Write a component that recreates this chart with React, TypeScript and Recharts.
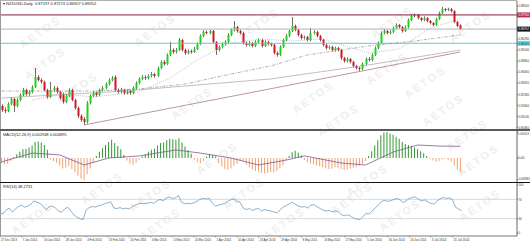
import { ComposedChart, Bar, Line, XAxis, YAxis, ReferenceLine, Cell } from "recharts";

// time axis labels, one every 7 bars
const dateTicks = [
  "27 Dec 2013", "7 Jan 2014", "16 Jan 2014", "28 Jan 2014", "4 Feb 2014", "13 Feb 2014",
  "20 Feb 2014", "4 Mar 2014", "13 Mar 2014", "20 Mar 2014", "1 Apr 2014", "10 Apr 2014",
  "23 Apr 2014", "29 Apr 2014", "8 May 2014", "16 May 2014", "27 May 2014", "5 Jun 2014",
  "16 Jun 2014", "24 Jun 2014", "3 Jul 2014", "15 Jul 2014",
];

// NZDUSD daily candles
const opens = [
  0.8180, 0.8153, 0.8146, 0.8193, 0.8227, 0.8180, 0.8220, 0.8254, 0.8287, 0.8260,
  0.8274, 0.8307, 0.8374, 0.8354, 0.8341, 0.8287, 0.8240, 0.8287, 0.8300, 0.8274,
  0.8260, 0.8207, 0.8247, 0.8287, 0.8220, 0.8166, 0.8113, 0.8093, 0.8073, 0.8200,
  0.8247, 0.8267, 0.8254, 0.8287, 0.8300, 0.8327, 0.8354, 0.8374, 0.8287, 0.8274,
  0.8287, 0.8267, 0.8280, 0.8267, 0.8300, 0.8334, 0.8361, 0.8374, 0.8367, 0.8381,
  0.8394, 0.8381, 0.8434, 0.8475, 0.8461, 0.8522, 0.8555, 0.8542, 0.8555, 0.8622,
  0.8555, 0.8535, 0.8548, 0.8542, 0.8562, 0.8595, 0.8649, 0.8676, 0.8669, 0.8682,
  0.8609, 0.8555, 0.8575, 0.8595, 0.8609, 0.8656, 0.8689, 0.8709, 0.8682, 0.8669,
  0.8602, 0.8589, 0.8602, 0.8582, 0.8609, 0.8622, 0.8582, 0.8609, 0.8595, 0.8589,
  0.8535, 0.8522, 0.8575, 0.8622, 0.8649, 0.8682, 0.8716, 0.8689, 0.8656, 0.8635,
  0.8642, 0.8622, 0.8669, 0.8676, 0.8649, 0.8622, 0.8589, 0.8568, 0.8575, 0.8555,
  0.8568, 0.8555, 0.8501, 0.8481, 0.8495, 0.8475, 0.8448, 0.8434, 0.8428, 0.8461,
  0.8495, 0.8488, 0.8522, 0.8568, 0.8602, 0.8669, 0.8682, 0.8669, 0.8676, 0.8702,
  0.8723, 0.8709, 0.8682, 0.8709, 0.8756, 0.8783, 0.8790, 0.8769, 0.8756, 0.8769,
  0.8749, 0.8736, 0.8723, 0.8763, 0.8803, 0.8830, 0.8823, 0.8830, 0.8816, 0.8743,
  0.87197,
];
const highs = [
  0.8192, 0.8170, 0.8205, 0.8240, 0.8236, 0.8232, 0.8264, 0.8300, 0.8296, 0.8285,
  0.8318, 0.8434, 0.8388, 0.8365, 0.8350, 0.8295, 0.8341, 0.8315, 0.8310, 0.8282,
  0.8270, 0.8258, 0.8298, 0.8296, 0.8228, 0.8175, 0.8125, 0.8105, 0.8212, 0.8258,
  0.8280, 0.8278, 0.8296, 0.8314, 0.8338, 0.8366, 0.8380, 0.8385, 0.8298, 0.8300,
  0.8295, 0.8292, 0.8290, 0.8312, 0.8345, 0.8372, 0.8388, 0.8386, 0.8392, 0.8408,
  0.8402, 0.8445, 0.8486, 0.8488, 0.8532, 0.8609, 0.8566, 0.8568, 0.8635, 0.8630,
  0.8565, 0.8560, 0.8558, 0.8575, 0.8606, 0.8660, 0.8688, 0.8686, 0.8689, 0.8690,
  0.8615, 0.8586, 0.8606, 0.8620, 0.8668, 0.8700, 0.8749, 0.8718, 0.8692, 0.8678,
  0.8612, 0.8614, 0.8610, 0.8620, 0.8634, 0.8630, 0.8620, 0.8618, 0.8605, 0.8596,
  0.8545, 0.8586, 0.8632, 0.8660, 0.8692, 0.8776, 0.8725, 0.8698, 0.8665, 0.8652,
  0.8650, 0.8702, 0.8688, 0.8684, 0.8656, 0.8630, 0.8598, 0.8586, 0.8584, 0.8578,
  0.8576, 0.8562, 0.8510, 0.8506, 0.8502, 0.8484, 0.8456, 0.8442, 0.8472, 0.8505,
  0.8508, 0.8532, 0.8578, 0.8612, 0.8680, 0.8695, 0.8690, 0.8688, 0.8712, 0.8734,
  0.8730, 0.8716, 0.8720, 0.8766, 0.8794, 0.8800, 0.8798, 0.8776, 0.8780, 0.8776,
  0.8756, 0.8742, 0.8772, 0.8812, 0.8843, 0.8836, 0.8838, 0.8836, 0.8822, 0.8750,
  0.87274,
];
const lows = [
  0.8140, 0.8133, 0.8138, 0.8185, 0.8140, 0.8170, 0.8212, 0.8245, 0.8250, 0.8248,
  0.8265, 0.8300, 0.8345, 0.8330, 0.8278, 0.8228, 0.8233, 0.8275, 0.8262, 0.8222,
  0.8195, 0.8198, 0.8240, 0.8210, 0.8155, 0.8100, 0.8075, 0.8053, 0.8062, 0.8190,
  0.8238, 0.8242, 0.8245, 0.8278, 0.8292, 0.8318, 0.8345, 0.8278, 0.8262, 0.8265,
  0.8255, 0.8258, 0.8255, 0.8260, 0.8292, 0.8325, 0.8352, 0.8355, 0.8358, 0.8372,
  0.8370, 0.8375, 0.8428, 0.8450, 0.8455, 0.8515, 0.8530, 0.8532, 0.8548, 0.8545,
  0.8522, 0.8526, 0.8530, 0.8535, 0.8555, 0.8588, 0.8640, 0.8660, 0.8660, 0.8600,
  0.8522, 0.8545, 0.8566, 0.8585, 0.8600, 0.8648, 0.8680, 0.8672, 0.8658, 0.8592,
  0.8578, 0.8580, 0.8572, 0.8575, 0.8600, 0.8572, 0.8575, 0.8585, 0.8578, 0.8525,
  0.8510, 0.8515, 0.8568, 0.8614, 0.8640, 0.8675, 0.8680, 0.8645, 0.8625, 0.8625,
  0.8612, 0.8615, 0.8660, 0.8640, 0.8612, 0.8578, 0.8558, 0.8558, 0.8545, 0.8546,
  0.8545, 0.8490, 0.8470, 0.8472, 0.8465, 0.8438, 0.8424, 0.8414, 0.8420, 0.8452,
  0.8478, 0.8480, 0.8515, 0.8560, 0.8595, 0.8660, 0.8660, 0.8660, 0.8668, 0.8695,
  0.8700, 0.8672, 0.8675, 0.8700, 0.8748, 0.8775, 0.8760, 0.8746, 0.8748, 0.8740,
  0.8726, 0.8714, 0.8716, 0.8756, 0.8796, 0.8812, 0.8815, 0.8806, 0.8735, 0.8708,
  0.86907,
];
const closes = [
  0.8153, 0.8146, 0.8193, 0.8227, 0.8180, 0.8220, 0.8254, 0.8287, 0.8260, 0.8274,
  0.8307, 0.8374, 0.8354, 0.8341, 0.8287, 0.8240, 0.8287, 0.8300, 0.8274, 0.8233,
  0.8207, 0.8247, 0.8287, 0.8220, 0.8166, 0.8113, 0.8086, 0.8073, 0.8200, 0.8247,
  0.8267, 0.8254, 0.8287, 0.8300, 0.8327, 0.8354, 0.8367, 0.8287, 0.8274, 0.8287,
  0.8267, 0.8280, 0.8267, 0.8300, 0.8334, 0.8361, 0.8374, 0.8367, 0.8381, 0.8394,
  0.8381, 0.8434, 0.8475, 0.8461, 0.8522, 0.8555, 0.8542, 0.8555, 0.8622, 0.8555,
  0.8535, 0.8548, 0.8542, 0.8562, 0.8595, 0.8649, 0.8676, 0.8669, 0.8682, 0.8609,
  0.8555, 0.8575, 0.8595, 0.8609, 0.8656, 0.8689, 0.8709, 0.8682, 0.8669, 0.8602,
  0.8589, 0.8602, 0.8582, 0.8609, 0.8622, 0.8582, 0.8609, 0.8595, 0.8589, 0.8535,
  0.8522, 0.8575, 0.8622, 0.8649, 0.8682, 0.8716, 0.8689, 0.8656, 0.8635, 0.8642,
  0.8622, 0.8669, 0.8676, 0.8649, 0.8622, 0.8589, 0.8568, 0.8575, 0.8555, 0.8568,
  0.8555, 0.8501, 0.8481, 0.8495, 0.8475, 0.8448, 0.8434, 0.8428, 0.8461, 0.8495,
  0.8488, 0.8522, 0.8568, 0.8602, 0.8669, 0.8682, 0.8669, 0.8676, 0.8702, 0.8723,
  0.8709, 0.8682, 0.8709, 0.8756, 0.8783, 0.8790, 0.8769, 0.8756, 0.8769, 0.8749,
  0.8736, 0.8723, 0.8763, 0.8803, 0.8830, 0.8823, 0.8830, 0.8816, 0.8743, 0.8716,
  0.86952,
];

// moving averages / trendline, read at a few bars (index, price)
const ma20Pts = [
  [10, 0.8220], [20, 0.8260], [30, 0.8240], [45, 0.8274], [55, 0.8367], [65, 0.8501],
  [75, 0.8602], [85, 0.8629], [95, 0.8615], [105, 0.8629], [120, 0.8535], [130, 0.8562],
  [140, 0.8702], [150, 0.8763],
];
const ma50Pts = [
  [0, 0.8280], [30, 0.8280], [45, 0.8294], [60, 0.8327], [75, 0.8394], [88, 0.8448],
  [100, 0.8522], [120, 0.8582], [135, 0.8615], [150, 0.8656],
];
const ma100Pts = [[0, 0.8233], [40, 0.8280], [88, 0.8361], [120, 0.8455], [150, 0.8555]];
const trendPts = [[27, 0.8053], [150, 0.8542]];

const priceTicks = [
  0.885, 0.8628, 0.8554, 0.848, 0.8406, 0.8332, 0.8258, 0.8184, 0.811, 0.8036,
];
const resistanceLevel = 0.879;
const bidLevel = 0.86952;
const supportLevel = 0.86;

// MACD(12,26,9)
const macdHist = [
  -0.0020, -0.0024, -0.0022, -0.0012, 0.0004, 0.0014, 0.0024, 0.0034, 0.0036, 0.0040,
  0.0048, 0.0062, 0.0064, 0.0060, 0.0050, 0.0032, -0.0006, -0.0012, -0.0018, -0.0030,
  -0.0040, -0.0038, -0.0032, -0.0042, -0.0055, -0.0068, -0.0080, -0.0086, -0.0062, -0.0040,
  -0.0018, 0.0008, 0.0024, 0.0038, 0.0050, 0.0062, 0.0070, 0.0058, 0.0046, 0.0034,
  0.0012, -0.0010, -0.0022, -0.0026, -0.0018, -0.0008, 0.0006, 0.0014, 0.0024, 0.0032,
  0.0036, 0.0048, 0.0058, 0.0060, 0.0068, 0.0074, 0.0072, 0.0070, 0.0076, 0.0060,
  0.0044, 0.0030, 0.0016, -0.0008, -0.0016, -0.0020, -0.0012, 0.0006, 0.0014, 0.0012,
  0.0006, -0.0020, -0.0032, -0.0042, -0.0046, -0.0040, -0.0030, -0.0022, -0.0010, -0.0012,
  -0.0026, -0.0036, -0.0044, -0.0050, -0.0054, -0.0058, -0.0060, -0.0058, -0.0054, -0.0056,
  -0.0050, -0.0040, -0.0028, -0.0010, 0.0008, 0.0022, 0.0028, 0.0020, 0.0010, -0.0008,
  -0.0016, -0.0022, -0.0024, -0.0028, -0.0032, -0.0036, -0.0040, -0.0042, -0.0040, -0.0036,
  -0.0038, -0.0042, -0.0046, -0.0044, -0.0040, -0.0038, -0.0036, -0.0030, -0.0022, -0.0012,
  0.0008, 0.0026, 0.0048, 0.0068, 0.0088, 0.0098, 0.0100, 0.0094, 0.0090, 0.0082,
  0.0074, 0.0062, 0.0054, 0.0050, 0.0046, 0.0040, 0.0034, 0.0026, 0.0018, 0.0008,
  -0.0004, -0.0010, -0.0014, -0.0012, -0.0006, -0.0004, -0.0008, -0.0014, -0.0030, -0.0044,
  -0.0054,
];
const signalPts = [
  [0, -0.0015], [10, 0.0019], [19, 0.0012], [27, -0.0027], [35, 0.0], [45, 0.0008],
  [57, 0.0031], [65, 0.0019], [75, 0.0], [84, -0.0027], [93, -0.0008], [99, 0.0008],
  [111, -0.0019], [119, -0.0027], [128, 0.0023], [136, 0.005], [143, 0.0046], [150, 0.0045],
];
const macdTicks = [0.010013, 0, -0.008383];

// RSI(14)
const rsiVals = [
  42, 40, 48, 52, 44, 50, 55, 58, 54, 56,
  60, 67, 64, 62, 55, 48, 55, 56, 52, 46,
  43, 50, 54, 46, 38, 33, 30, 28, 48, 53,
  55, 54, 57, 58, 61, 63, 65, 52, 51, 53,
  50, 52, 50, 55, 58, 61, 62, 61, 62, 64,
  62, 67, 70, 67, 73, 75, 72, 73, 78, 64,
  61, 62, 61, 63, 66, 70, 72, 71, 72, 62,
  56, 58, 60, 61, 66, 69, 71, 66, 64, 52,
  49, 51, 47, 50, 51, 46, 49, 47, 46, 44,
  42, 48, 54, 57, 61, 64, 60, 56, 54, 55,
  52, 58, 59, 55, 51, 48, 46, 47, 44, 46,
  44, 38, 36, 38, 35, 31, 29, 28, 35, 41,
  40, 46, 53, 58, 66, 68, 66, 67, 70, 72,
  69, 63, 67, 72, 74, 75, 70, 67, 69, 65,
  62, 60, 66, 71, 74, 72, 73, 70, 54, 50,
  47,
];
const rsiTicks = [100, 70, 30, 0];

// chart has empty room to the right of the last candle
const SLOTS = 169;

type Row = {
  i: number; o?: number; h?: number; l?: number; c?: number; range?: [number, number];
  ma20?: number; ma50?: number; ma100?: number; trend?: number;
  macd?: number; signal?: number; rsi?: number;
};

const rows: Row[] = Array.from({ length: SLOTS }, (_, i) => {
  const r: Row = { i };
  if (i < closes.length) {
    r.o = opens[i]; r.h = highs[i]; r.l = lows[i]; r.c = closes[i];
    r.range = [lows[i], highs[i]];
    r.macd = macdHist[i];
    r.rsi = rsiVals[i];
  }
  return r;
});
const put = (pts: number[][], key: keyof Row) => {
  for (const [i, v] of pts) (rows[i] as any)[key] = v;
};
put(ma20Pts, "ma20");
put(ma50Pts, "ma50");
put(ma100Pts, "ma100");
put(trendPts, "trend");
put(signalPts, "signal");

const FONT = "'Liberation Sans', Arial, sans-serif";

const Candle = (p: any) => {
  const { x, y, width, height, payload } = p;
  if (!payload || payload.o == null) return null;
  const { o, h, l, c } = payload;
  const top = Math.min(y, y + height);
  const hh = Math.abs(height);
  const k = hh / (h - l || 1e-9);
  const yo = top + (h - o) * k;
  const yc = top + (h - c) * k;
  const cx = Math.round(x + width / 2) + 0.5;
  const bt = Math.min(yo, yc);
  const bh = Math.max(1, Math.abs(yc - yo));
  const up = c >= o;
  return (
    <g>
      <line x1={cx} x2={cx} y1={top} y2={top + hh} stroke="#4a4a4a" strokeWidth={0.8} />
      <rect x={cx - 1} y={bt} width={2} height={bh} fill={up ? "#1fd21f" : "#d4141e"} />
    </g>
  );
};

const PriceTag = (p: any) => {
  const { viewBox, bg, color, text } = p;
  if (!viewBox) return null;
  const x = viewBox.x + viewBox.width;
  return (
    <g>
      <rect x={x} y={viewBox.y - 2.5} width={13} height={5} fill={bg} />
      <text x={x + 12} y={viewBox.y + 1.3} fontSize={3.4} fill={color} fontFamily={FONT} textAnchor="end"
        textLength={10.5} lengthAdjust="spacingAndGlyphs">{text}</text>
    </g>
  );
};

// right-hand value labels squeezed into the 13px axis strip
const makeAxisTick = (fmt: (v: number) => string, nudge: (v: number) => number) => (p: any) => {
  const { x, y, payload } = p;
  const s = fmt(payload.value);
  return (
    <text x={x} y={y + 1.2 + nudge(payload.value)} fontSize={3.4} fill="#333" fontFamily={FONT}
      textLength={Math.min(10.5, s.length * 1.6)} lengthAdjust="spacingAndGlyphs">{s}</text>
  );
};
const PriceAxisTick = makeAxisTick((v) => v.toFixed(5), () => 0);
const RsiAxisTick = makeAxisTick((v) => String(v), () => 0);

// MACD scale labels are longer, so they get a smaller font
const MacdAxisTick = (p: any) => {
  const { y, payload } = p;
  const v = payload.value;
  const s = v === 0 ? "0.00" : v.toFixed(6);
  const dy = v > 0 ? 1.8 : v < 0 ? -0.8 : 0;
  return (
    <text x={517.8} y={y + 1.1 + dy} fontSize={v === 0 ? 3.4 : 2.6} fill="#333" fontFamily={FONT}>{s}</text>
  );
};

const DateTick = (p: any) => {
  const { x, y, payload } = p;
  const label = dateTicks[payload.value / 7];
  if (!label) return null;
  return (
    <g>
      <line x1={x} x2={x} y1={y} y2={y + 1.5} stroke="#777" strokeWidth={0.6} />
      <text x={x + 1} y={y + 5.3} fontSize={3.3} fill="#333" fontFamily={FONT}
        textLength={label.length * 1.45} lengthAdjust="spacingAndGlyphs">{label}</text>
    </g>
  );
};

const watermarks = [
  [40, 32], [155, 30], [258, 24], [392, 22], [470, 26], [45, 63], [77, 88], [192, 103],
  [313, 97], [387, 68], [425, 82], [443, 110], [338, 120], [467, 135], [102, 188], [32, 218],
  [150, 195], [160, 224], [367, 180], [478, 160], [400, 215], [480, 205], [217, 158],
  [244, 193], [284, 223], [352, 198],
];

export default function App() {
  return (
    <div style={{ position: "fixed", left: 0, top: 0, width: 530, height: 244, background: "#fff", overflow: "hidden", fontFamily: FONT }}>
      {watermarks.map(([x, y], k) => (
        <div key={k} style={{
          position: "absolute", left: x, top: y, transform: "translate(-50%,-50%) rotate(-35deg)",
          fontSize: 11, fontWeight: 700, letterSpacing: 2, color: "#efefef", whiteSpace: "nowrap",
        }}>AETOS</div>
      ))}

      <div style={{ position: "absolute", left: 0, top: 0 }}>
        <ComposedChart width={530} height={130} data={rows} margin={{ top: 1, right: 0, bottom: 1, left: 0 }} barCategoryGap={0}>
          <XAxis dataKey="i" hide />
          <YAxis orientation="right" width={13} domain={[0.80257, 0.88833]} ticks={priceTicks} interval={0}
            allowDataOverflow tick={<PriceAxisTick />} tickSize={1} tickMargin={0.5}
            tickLine={{ stroke: "#666" }} axisLine={{ stroke: "#666" }} />
          <ReferenceLine y={resistanceLevel} stroke="#8c1c3c" strokeWidth={1}
            label={<PriceTag bg="#b0304e" color="#fff" text="0.87900" />} />
          <ReferenceLine y={bidLevel} stroke="#b4b4b4" strokeWidth={1}
            label={<PriceTag bg="#111" color="#fff" text="0.86952" />} />
          <ReferenceLine y={supportLevel} stroke="#4fd0dc" strokeWidth={1}
            label={<PriceTag bg="#5fe0ea" color="#222" text="0.86000" />} />
          <Line dataKey="ma100" stroke="#a09090" strokeWidth={0.6} dot={false} connectNulls isAnimationActive={false} />
          <Line dataKey="ma50" stroke="#777" strokeWidth={0.6} strokeDasharray="3 1.5 1 1.5" dot={false} connectNulls isAnimationActive={false} />
          <Line dataKey="ma20" stroke="#999" strokeWidth={0.6} strokeDasharray="1 1.2" dot={false} connectNulls isAnimationActive={false} />
          <Line dataKey="trend" stroke="#8a5656" strokeWidth={0.6} dot={false} connectNulls isAnimationActive={false} />
          <Bar dataKey="range" shape={<Candle />} isAnimationActive={false} />
        </ComposedChart>
      </div>

      <div style={{ position: "absolute", left: 0, top: 131 }}>
        <ComposedChart width={530} height={51} data={rows} margin={{ top: 0, right: 0, bottom: 0, left: 0 }} barCategoryGap={0}>
          <XAxis dataKey="i" hide />
          <YAxis orientation="right" width={13} domain={[-0.00924, 0.0104]} ticks={macdTicks} interval={0}
            allowDataOverflow tick={<MacdAxisTick />} tickSize={1} tickMargin={0.5}
            tickLine={{ stroke: "#666" }} axisLine={{ stroke: "#666" }} />
          <Bar dataKey="macd" barSize={1} isAnimationActive={false}>
            {rows.map((r) => (
              <Cell key={r.i} fill={(r.macd ?? 0) >= 0 ? "#2f9a2f" : "#f0a070"} />
            ))}
          </Bar>
          <Line dataKey="signal" stroke="#7d5a92" strokeWidth={0.8} dot={false} connectNulls isAnimationActive={false} />
        </ComposedChart>
      </div>

      <div style={{ position: "absolute", left: 0, top: 183 }}>
        <ComposedChart width={530} height={61} data={rows} margin={{ top: 0, right: 0, bottom: 0, left: 0 }}>
          <XAxis dataKey="i" interval={6} height={8} tick={<DateTick />} tickLine={false} tickSize={0} tickMargin={0}
            axisLine={{ stroke: "#777" }} />
          <YAxis orientation="right" width={13} domain={[-6, 104]} ticks={rsiTicks} interval={0}
            allowDataOverflow tick={<RsiAxisTick />} tickSize={1} tickMargin={0.5}
            tickLine={{ stroke: "#666" }} axisLine={{ stroke: "#666" }} />
          <ReferenceLine y={70} stroke="#d2d2d2" strokeWidth={0.8} />
          <ReferenceLine y={30} stroke="#d2d2d2" strokeWidth={0.8} />
          <Line dataKey="rsi" stroke="#5a8fbe" strokeWidth={0.7} dot={false} isAnimationActive={false} />
        </ComposedChart>
      </div>

      {/* panel frame */}
      <div style={{ position: "absolute", left: 0, top: 0, width: 1, height: 236, background: "#9a9a9a" }} />
      <div style={{ position: "absolute", left: 0, top: 0, width: 517, height: 1, background: "#b0b0b0" }} />
      <div style={{ position: "absolute", left: 0, top: 129, width: 530, height: 2, background: "#5a5a5a" }} />
      <div style={{ position: "absolute", left: 0, top: 182, width: 530, height: 1, background: "#111" }} />

      <div style={{ position: "absolute", left: 3, top: 1, fontSize: 4, color: "#222", whiteSpace: "nowrap" }}>
        ▾ NZDUSD,Daily&nbsp; 0.87197 0.87274 0.86907 0.86952
      </div>
      <div style={{ position: "absolute", left: 3, top: 131.5, fontSize: 4, color: "#222", whiteSpace: "nowrap" }}>
        MACD(12,26,9) 0.002948 0.004895
      </div>
      <div style={{ position: "absolute", left: 3, top: 184, fontSize: 4, color: "#222", whiteSpace: "nowrap" }}>
        RSI(14) 48.2731
      </div>
    </div>
  );
}
